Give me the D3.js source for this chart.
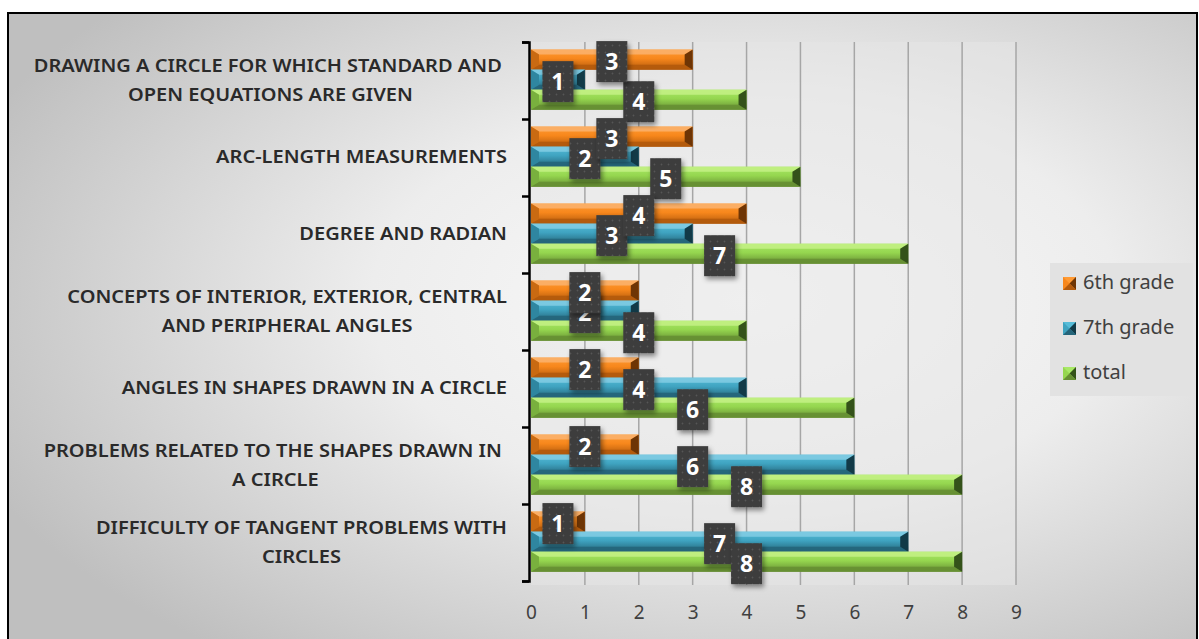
<!DOCTYPE html>
<html><head><meta charset="utf-8">
<script src="https://cdn.jsdelivr.net/npm/d3@7"></script>
<style>body{margin:0;background:#fff;} svg{display:block}</style>
</head><body><svg id="c" width="1199" height="639"></svg>
<script>
const categories = [
  "DRAWING A CIRCLE FOR WHICH STANDARD AND\u00a0|OPEN EQUATIONS ARE GIVEN",
  "ARC-LENGTH MEASUREMENTS",
  "DEGREE AND RADIAN",
  "CONCEPTS OF INTERIOR, EXTERIOR, CENTRAL|AND PERIPHERAL ANGLES",
  "ANGLES IN SHAPES DRAWN IN A CIRCLE",
  "PROBLEMS RELATED TO THE SHAPES DRAWN IN\u00a0|A CIRCLE",
  "DIFFICULTY OF TANGENT PROBLEMS WITH|CIRCLES"
];
const sixthGrade = [3, 3, 4, 2, 2, 2, 1];
const seventhGrade = [1, 2, 3, 2, 4, 6, 7];
const totalValues = [4, 5, 7, 4, 6, 8, 8];
const seriesNames = ["6th grade", "7th grade", "total"];
const xTicks = [0, 1, 2, 3, 4, 5, 6, 7, 8, 9];

const seriesValues = [sixthGrade, seventhGrade, totalValues];
const palette = [
  {top:"#fbb06a", base:"#f7871c", bright:"#ff9a33", bottom:"#b35a0c", right:"#6e3505", left:"#c96a12"},
  {top:"#7fcbe2", base:"#3fa3c0", bright:"#56bcd8", bottom:"#25657a", right:"#123a47", left:"#2f86a0"},
  {top:"#c2f083", base:"#95d64f", bright:"#a8e866", bottom:"#668f33", right:"#34521a", left:"#79b03e"}
];

const svg = d3.select("#c");
const defs = svg.append("defs");

const bg = defs.append("radialGradient").attr("id","bgGrad")
  .attr("cx","62%").attr("cy","45%").attr("r","70%");
bg.append("stop").attr("offset","0%").attr("stop-color","#fafafa");
bg.append("stop").attr("offset","45%").attr("stop-color","#ededed");
bg.append("stop").attr("offset","100%").attr("stop-color","#bfbfbf");

palette.forEach((p,i)=>{
  const g = defs.append("linearGradient").attr("id","barGrad"+i).attr("x1",0).attr("y1",0).attr("x2",0).attr("y2",1);
  g.append("stop").attr("offset","0%").attr("stop-color",p.bright);
  g.append("stop").attr("offset","45%").attr("stop-color",p.base);
  g.append("stop").attr("offset","100%").attr("stop-color",p.bottom);
});

const pat = defs.append("pattern").attr("id","dots").attr("patternUnits","userSpaceOnUse")
  .attr("width",7).attr("height",7);
pat.append("rect").attr("width",7).attr("height",7).attr("fill","#3c3c3c");
pat.append("circle").attr("cx",3.5).attr("cy",3.5).attr("r",0.9).attr("fill","#575757");

const sh = defs.append("filter").attr("id","shadow").attr("x","-30%").attr("y","-30%").attr("width","170%").attr("height","170%");
sh.append("feDropShadow").attr("dx",2).attr("dy",3).attr("stdDeviation",2.5).attr("flood-color","#000").attr("flood-opacity",0.45);

svg.append("rect").attr("x",8).attr("y",13).attr("width",1189).attr("height",640)
  .attr("fill","url(#bgGrad)").attr("stroke","#000").attr("stroke-width",2);

const x = d3.scaleLinear().domain([0,9]).range([531,1016]);
const y = d3.scaleBand().domain(d3.range(categories.length)).range([42,581]).paddingInner(0).paddingOuter(0);
const ySub = d3.scaleBand().domain(d3.range(3)).range([0,y.bandwidth()]).paddingInner(0).paddingOuter(0.42).align(0.45);
const yEdge = d3.scaleLinear().domain([0,categories.length]).range([42,581]);

svg.append("rect").attr("x",x(0)).attr("y",42).attr("width",x(9)-x(0)).attr("height",543)
  .attr("fill","#e6e6e6").attr("opacity",0.55);

svg.append("g").selectAll("line").data(xTicks.filter(d=>d>0)).join("line")
  .attr("x1",d=>x(d)).attr("x2",d=>x(d)).attr("y1",42).attr("y2",585)
  .attr("stroke","#a6a6a6").attr("stroke-width",1.5);

const bars = svg.append("g");
seriesValues.forEach((vals,si)=>{
  const p = palette[si];
  vals.forEach((v,ci)=>{
    const x0 = x(0), x1 = x(v);
    const y0 = y(ci)+ySub(si), h = ySub.bandwidth(), y1 = y0+h;
    const t = 5, b = Math.min(8,(x1-x0)/3);
    const g = bars.append("g");
    g.append("rect").attr("x",x0).attr("y",y0).attr("width",x1-x0).attr("height",h).attr("fill","url(#barGrad"+si+")");
    g.append("polygon").attr("points",[[x0,y0],[x1,y0],[x1-b,y0+t],[x0+b,y0+t]].join(" ")).attr("fill",p.top).attr("opacity",0.9);
    g.append("polygon").attr("points",[[x0,y1],[x1,y1],[x1-b,y1-t],[x0+b,y1-t]].join(" ")).attr("fill",p.bottom).attr("opacity",0.9);
    g.append("polygon").attr("points",[[x1,y0],[x1,y1],[x1-b,y1-t],[x1-b,y0+t]].join(" ")).attr("fill",p.right);
    g.append("polygon").attr("points",[[x0,y0],[x0,y1],[x0+b,y1-t],[x0+b,y0+t]].join(" ")).attr("fill",p.left);
  });
});

const yAxis = svg.append("g").attr("transform","translate(529,0)")
  .call(d3.axisLeft(yEdge).tickValues(d3.range(categories.length+1)).tickSize(7).tickFormat(""));
yAxis.select(".domain").attr("stroke","#000").attr("stroke-width",2.5);
yAxis.selectAll(".tick line").attr("stroke","#000").attr("stroke-width",2.5);

const xAxis = svg.append("g").attr("transform","translate(0,602)")
  .call(d3.axisBottom(x).tickValues(xTicks).tickSize(0).tickFormat(d3.format("d")));
xAxis.select(".domain").remove();
xAxis.selectAll("text").attr("font-family","'Noto Sans', sans-serif").attr("font-size",19).attr("fill","#404040");

const labG = svg.append("g").attr("font-family","'Noto Sans', sans-serif").attr("font-size",18)
  .attr("font-weight",600).attr("fill","#2a2a2a");
const probe = labG.append("text").text(categories[0].split("|")[0].replace("\u00a0",""));
const k = 468/probe.node().getComputedTextLength();
probe.remove();
categories.forEach((c,ci)=>{
  const lines = c.split("|");
  const cy = y(ci)+y.bandwidth()/2 - 1;
  const lh = 29;
  const widths = lines.map(l=>{const t=labG.append("text").text(l);const w=t.node().getComputedTextLength()*k;t.remove();return w;});
  const maxW = d3.max(widths);
  const cx = 507 - maxW/2;
  lines.forEach((l,li)=>{
    labG.append("text").attr("x",cx).attr("text-anchor","middle")
      .attr("y",cy + (li-(lines.length-1)/2)*lh + 6.5)
      .attr("textLength",widths[li]).attr("lengthAdjust","spacingAndGlyphs").text(l);
  });
});

const labelsG = svg.append("g");
[1,2,0].forEach(si=>{
  seriesValues[si].forEach((v,ci)=>{
    const cx = x(v/2), cy = y(ci)+ySub(si)+ySub.bandwidth()/2+2;
    const g = labelsG.append("g");
    g.append("rect").attr("x",cx-15.5).attr("y",cy-20.5).attr("width",31).attr("height",41)
      .attr("fill","url(#dots)").attr("filter","url(#shadow)");
    g.append("text").attr("x",cx).attr("y",cy+8.5).attr("text-anchor","middle")
      .attr("font-family","'Open Sans', sans-serif").attr("font-weight",700).attr("font-size",23)
      .attr("fill","#fff").text(v);
  });
});

const leg = svg.append("g");
leg.append("rect").attr("x",1050).attr("y",263).attr("width",143).attr("height",133).attr("fill","#e2e2e2");
seriesNames.forEach((n,i)=>{
  const by = 289 + i*45;
  const p = palette[i];
  const mx = 1063, my = by-12, s = 13;
  leg.append("rect").attr("x",mx).attr("y",my).attr("width",s).attr("height",s).attr("fill",p.base);
  leg.append("polygon").attr("points",[[mx,my],[mx+s,my],[mx+s/2,my+s/2]].join(" ")).attr("fill",p.bright);
  leg.append("polygon").attr("points",[[mx+s,my],[mx+s,my+s],[mx+s/2,my+s/2]].join(" ")).attr("fill",p.right);
  leg.append("polygon").attr("points",[[mx,my+s],[mx+s,my+s],[mx+s/2,my+s/2]].join(" ")).attr("fill",p.bottom);
  leg.append("text").attr("x",1083).attr("y",by).attr("font-family","'Noto Sans', sans-serif")
    .attr("font-size",20).attr("fill","#404040").text(n);
});
</script></body></html>
